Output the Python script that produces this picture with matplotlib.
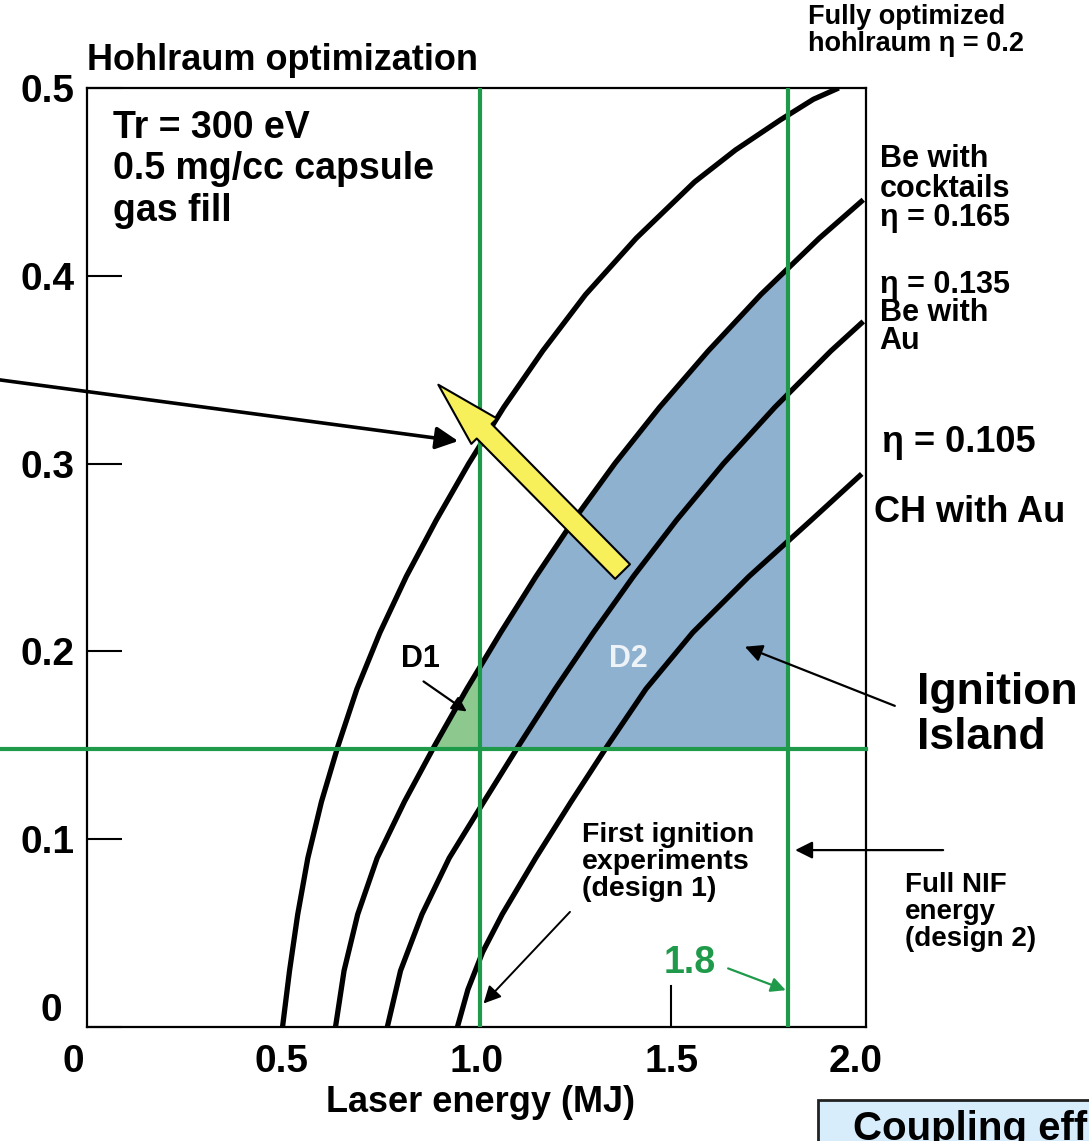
import matplotlib.pyplot as plt
import matplotlib.patches as mpatches
from matplotlib.transforms import ScaledTranslation
import numpy as np

# ignition curves: laser energy (MJ) at given y values
c1_y = [0.0, 0.03, 0.06, 0.09, 0.12, 0.15, 0.18, 0.21, 0.24, 0.27, 0.30, 0.33, 0.36, 0.39, 0.42, 0.45, 0.467, 0.483, 0.494, 0.50]
c1_x = [0.502, 0.520, 0.541, 0.567, 0.602, 0.645, 0.693, 0.752, 0.820, 0.897, 0.980, 1.070, 1.170, 1.280, 1.410, 1.560, 1.665, 1.780, 1.865, 1.930]

c2_y = [0.0, 0.03, 0.06, 0.09, 0.12, 0.15, 0.18, 0.21, 0.24, 0.27, 0.30, 0.33, 0.36, 0.39, 0.42, 0.4405]
c2_x = [0.638, 0.660, 0.695, 0.745, 0.815, 0.893, 0.975, 1.062, 1.153, 1.250, 1.355, 1.470, 1.595, 1.730, 1.880, 1.993]

c3_y = [0.0, 0.03, 0.06, 0.09, 0.12, 0.15, 0.18, 0.21, 0.24, 0.27, 0.30, 0.33, 0.36, 0.3757]
c3_x = [0.771, 0.805, 0.860, 0.930, 1.019, 1.109, 1.202, 1.300, 1.403, 1.514, 1.634, 1.766, 1.910, 1.993]

c4_y = [0.0, 0.02, 0.04, 0.06, 0.09, 0.12, 0.15, 0.18, 0.21, 0.24, 0.27, 0.2945]
c4_x = [0.951, 0.978, 1.016, 1.066, 1.152, 1.243, 1.337, 1.435, 1.555, 1.700, 1.860, 1.989]

x_design1 = 1.01
x_design2 = 1.8
y_limit = 0.148

x_ticks = [0, 0.5, 1.0, 1.5, 2.0]
x_ticklabels = ['0', '0.5', '1.0', '1.5', '2.0']
y_ticks = [0, 0.1, 0.2, 0.3, 0.4, 0.5]
y_ticklabels = ['0', '0.1', '0.2', '0.3', '0.4', '0.5']

green = '#1f9a4a'
blue_fill = '#8fb1d0'
green_fill = '#8dc88f'
yellow = '#f7f05a'

plt.rcParams['font.family'] = ['Liberation Sans', 'DejaVu Sans']
plt.rcParams['font.weight'] = 'bold'

fig = plt.figure(figsize=(10.89, 11.41), dpi=100)
ax = fig.add_axes([87 / 1089, 114 / 1141, 779 / 1089, 939 / 1141])

# ignition island (right of the eta=0.165 curve, above the limit line)
x_start = np.interp(y_limit, c2_y, c2_x)
xs = np.linspace(x_start, x_design2, 400)
ys = np.interp(xs, c2_x, c2_y)
ax.fill_between(xs, y_limit, ys, where=xs <= x_design1, color=green_fill, lw=0, zorder=1)
ax.fill_between(xs, y_limit, ys, where=xs >= x_design1, color=blue_fill, lw=0, zorder=1)

for cx, cy in [(c1_x, c1_y), (c2_x, c2_y), (c3_x, c3_y), (c4_x, c4_y)]:
    ax.plot(cx, cy, color='k', lw=3.8, solid_capstyle='butt', solid_joinstyle='round', zorder=2)

ax.axvline(x_design1, color=green, lw=3, zorder=3)
ax.axvline(x_design2, color=green, lw=3, zorder=3)
ax.plot([-0.23, 2.0], [y_limit, y_limit], color=green, lw=3, zorder=3, clip_on=False)

ax.set_xlim(0, 2.0)
ax.set_ylim(0, 0.5)
ax.set_xticks(x_ticks)
ax.set_xticklabels(x_ticklabels)
ax.set_yticks(y_ticks)
ax.set_yticklabels(y_ticklabels)
ax.tick_params(direction='in', length=25, width=1.5, labelsize=28)
ax.tick_params(axis='x', pad=12, length=0)
ax.tick_params(axis='y', pad=9)
for s in ax.spines.values():
    s.set_linewidth(1.6)

# nudge the corner labels like in the original
xl = ax.get_xticklabels()
xl[0].set_transform(xl[0].get_transform() + ScaledTranslation(-14 / 100, 0, fig.dpi_scale_trans))
xl[-1].set_transform(xl[-1].get_transform() + ScaledTranslation(-10 / 100, 0, fig.dpi_scale_trans))
yl = ax.get_yticklabels()
yl[0].set_transform(yl[0].get_transform() + ScaledTranslation(-12 / 100, 20 / 100, fig.dpi_scale_trans))

fig.text(480 / 1089, 1 - 1103 / 1141, 'Laser energy (MJ)', fontsize=26, ha='center', va='center')

# texts
ax.text(0.0, 0.5097, 'Hohlraum optimization', fontsize=26, ha='left', va='baseline')
ax.text(0.068, 0.4884, 'Tr = 300 eV\n0.5 mg/cc capsule\ngas fill', fontsize=27,
        ha='left', va='top', linespacing=1.2)
fig.text(808 / 1089, 1 - 4 / 1141, 'Fully optimized\nhohlraum \u03b7 = 0.2', fontsize=19.5,
         ha='left', va='top', linespacing=1.05)
ax.text(2.035, 0.47, 'Be with\ncocktails\n\u03b7 = 0.165', fontsize=22, ha='left',
        va='top', linespacing=0.98)
ax.text(2.035, 0.403, '\u03b7 = 0.135\nBe with\nAu', fontsize=22, ha='left',
        va='top', linespacing=0.9)
ax.text(2.04, 0.311, '\u03b7 = 0.105', fontsize=26, ha='left', va='center')
ax.text(2.02, 0.274, 'CH with Au', fontsize=26, ha='left', va='center')
ax.text(2.13, 0.166, 'Ignition\nIsland', fontsize=32, ha='left', va='center',
        linespacing=1.12)
ax.text(2.1, 0.061, 'Full NIF\nenergy\n(design 2)', fontsize=20, ha='left',
        va='center', linespacing=1.05)
ax.text(1.27, 0.088, 'First ignition\nexperiments\n(design 1)', fontsize=20.5,
        ha='left', va='center', linespacing=1.05)
ax.text(0.855, 0.196, 'D1', fontsize=22, ha='center', va='center', zorder=5)
ax.text(1.389, 0.196, 'D2', fontsize=22, ha='center', va='center', color='#eef3f8',
        zorder=5)
ax.text(1.548, 0.034, '1.8', fontsize=27, ha='center', va='center', color=green)

# arrows
def arrow(tail, tip, color='k', lw=1.6, size=22):
    ax.annotate('', xy=tip, xytext=tail, annotation_clip=False,
                arrowprops=dict(arrowstyle='-|>', color=color, lw=lw,
                                mutation_scale=size, shrinkA=0, shrinkB=0),
                zorder=5)

arrow((-0.225, 0.3446), (0.953, 0.312), lw=2.6, size=34)
arrow((0.864, 0.184), (0.975, 0.168), lw=1.6, size=22)
arrow((2.074, 0.171), (1.689, 0.2025), lw=1.6, size=26)
arrow((2.198, 0.0942), (1.818, 0.0942), lw=1.6, size=26)
arrow((1.24, 0.0613), (1.018, 0.0125), lw=1.4, size=26)
arrow((1.646, 0.0312), (1.794, 0.0196), color=green, lw=1.6, size=22)

# tick mark under the 1.8 label
ax.plot([1.5, 1.5], [0.0, 0.022], color='k', lw=1.5, zorder=4)

# big yellow arrow
ax.annotate('', xy=(0.902, 0.342), xytext=(1.375, 0.2425),
            arrowprops=dict(arrowstyle='simple,head_length=4.7,head_width=2.6,tail_width=1.5',
                            mutation_scale=10, fc=yellow, ec='k', lw=1.5,
                            shrinkA=0, shrinkB=0),
            zorder=6)

# box at the bottom right
fig.patches.append(mpatches.Rectangle((818 / 1089, -0.01), 0.3, 0.01 + 41 / 1141,
                                      transform=fig.transFigure, fc='#d8edfb',
                                      ec='#222222', lw=2))
fig.text(853 / 1089, 1 - 1110 / 1141, 'Coupling efficiency', fontsize=29, ha='left', va='top')

plt.savefig('out.png', dpi=100)
